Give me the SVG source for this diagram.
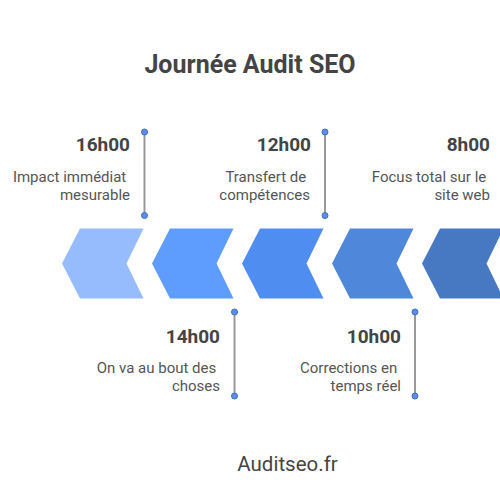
<svg xmlns="http://www.w3.org/2000/svg" width="500" height="493" viewBox="0 0 500 493">
<defs>
<style>
.title{font-family:Roboto,"Liberation Sans",sans-serif;font-weight:bold;font-size:25px;fill:#444;}
.time{font-family:Roboto,"Liberation Sans",sans-serif;font-weight:bold;font-size:19px;fill:#444;text-anchor:end;}
.desc{font-family:Roboto,"Liberation Sans",sans-serif;font-size:15px;fill:#555;text-anchor:end;}
.foot{font-family:Roboto,"Liberation Sans",sans-serif;font-size:20.5px;fill:#444;text-anchor:middle;}
.line{stroke:#999;stroke-width:2;}
.dot{fill:#5B8FE6;stroke:#3F6FC0;stroke-width:1;}
</style>
<polygon id="chev" points="62,263.5 80,228.5 143.5,228.5 126.5,263.5 143.5,298.5 80,298.5"/>
</defs>
<rect width="500" height="493" fill="#fff"/>
<text class="title" x="250" y="73" text-anchor="middle">Journée Audit SEO</text>
<g id="chevrons">
<use href="#chev" fill="#96BCFE"/>
<use href="#chev" x="90" fill="#5E9CFD"/>
<use href="#chev" x="180" fill="#508DF0"/>
<use href="#chev" x="270" fill="#4F87DA"/>
<use href="#chev" x="360" fill="#4778C2"/>
</g>
<g id="connectors">
<line class="line" x1="144.5" y1="132" x2="144.5" y2="215.5"/>
<line class="line" x1="325" y1="132" x2="325" y2="215.5"/>
<line class="line" x1="234.5" y1="312" x2="234.5" y2="396"/>
<line class="line" x1="415" y1="312" x2="415" y2="396"/>
<circle class="dot" cx="144.5" cy="132" r="3"/>
<circle class="dot" cx="144.5" cy="215.5" r="3"/>
<circle class="dot" cx="325" cy="132" r="3"/>
<circle class="dot" cx="325" cy="215.5" r="3"/>
<circle class="dot" cx="234.5" cy="312" r="3"/>
<circle class="dot" cx="234.5" cy="396" r="3"/>
<circle class="dot" cx="415" cy="312" r="3"/>
<circle class="dot" cx="415" cy="396" r="3"/>
</g>
<g id="n16">
<text class="time" x="130" y="151">16h00</text>
<text class="desc"><tspan x="130" y="182">Impact immédiat </tspan><tspan x="130" dy="17.5">mesurable</tspan></text>
</g>
<g id="n12">
<text class="time" x="311" y="151">12h00</text>
<text class="desc"><tspan x="310" y="182">Transfert de </tspan><tspan x="310" dy="17.5">compétences</tspan></text>
</g>
<g id="n8">
<text class="time" x="490" y="151">8h00</text>
<text class="desc"><tspan x="490" y="182">Focus total sur le </tspan><tspan x="490" dy="17.5">site web</tspan></text>
</g>
<g id="n14">
<text class="time" x="220" y="343">14h00</text>
<text class="desc"><tspan x="220" y="373">On va au bout des </tspan><tspan x="220" dy="17.5">choses</tspan></text>
</g>
<g id="n10">
<text class="time" x="401" y="343">10h00</text>
<text class="desc"><tspan x="401" y="373">Corrections en </tspan><tspan x="401" dy="17.5">temps réel</tspan></text>
</g>
<text class="foot" x="287.5" y="471">Auditseo.fr</text>
</svg>
